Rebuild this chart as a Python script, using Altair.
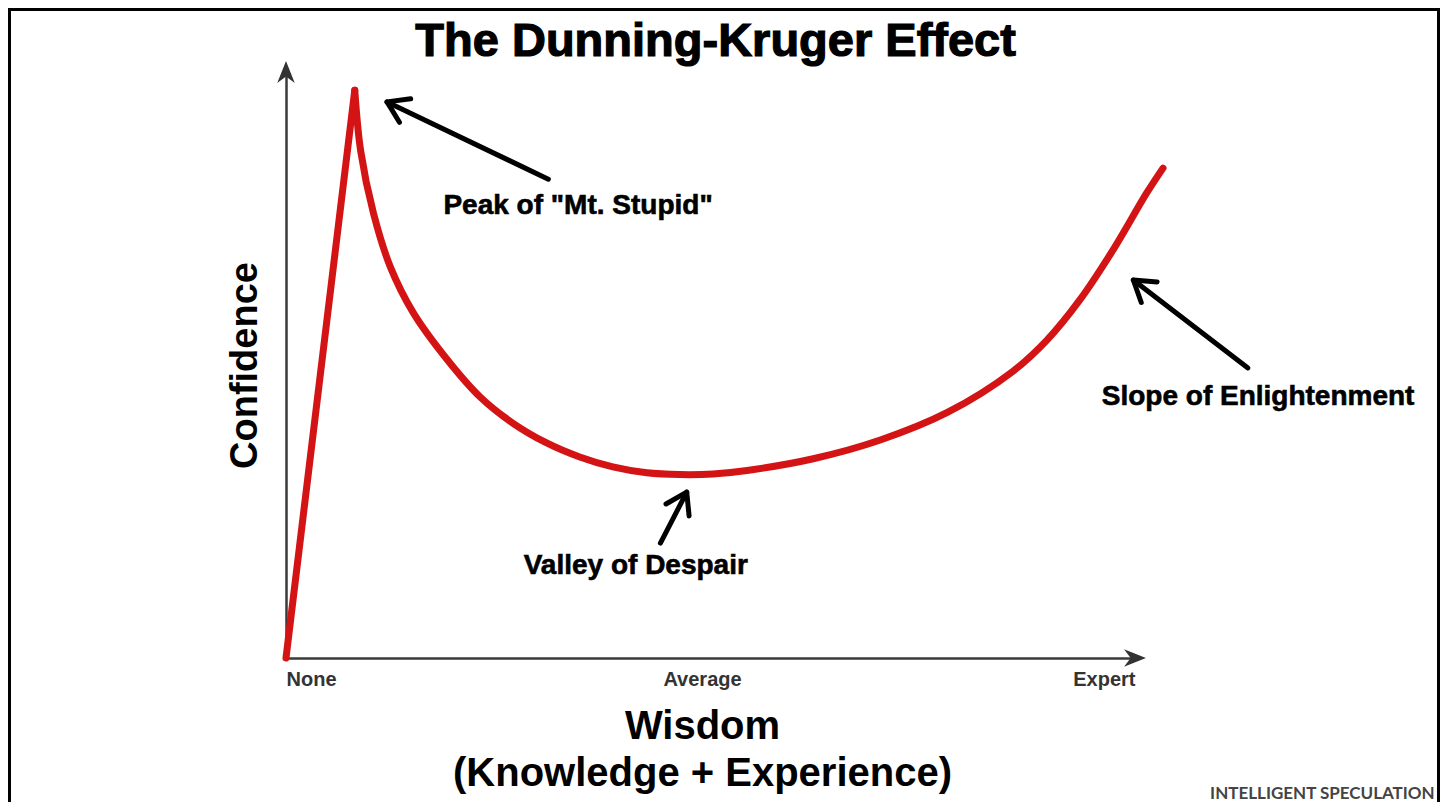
import math
import altair as alt
import pandas as pd

# ---------------- data (Wisdom: 0 = None ... 100 = Expert; Confidence 0..100) ----------------
rise_wisdom = [0.0, 8.1]
rise_conf = [0.0, 96.9]

curve_wisdom = [8.1, 8.8, 10.3, 12.3, 15.0, 19.0, 22.9, 26.7, 30.7, 34.6, 38.5, 42.5,
                46.4, 50.3, 54.3, 62.1, 70.0, 77.9, 85.6, 89.6, 93.5, 97.4, 101.4, 103.3]
curve_conf = [96.9, 86.5, 75.9, 66.7, 58.9, 50.9, 44.5, 40.1, 36.7, 34.3, 32.6, 31.6,
              31.3, 31.4, 32.0, 34.0, 37.2, 41.9, 48.9, 54.2, 61.1, 69.6, 79.4, 83.6]

tick_values = [0, 49, 100]
tick_labels = ["None", "Average", "Expert"]

title_text = ["The Dunning-Kruger Effect"]
title_wisdom = [50.6]
title_conf = [105.1]

ann_text = ['Peak of "Mt. Stupid"', "Valley of Despair", "Slope of Enlightenment"]
ann_wisdom = [34.4, 41.2, 114.5]
ann_conf = [77.1, 15.7, 44.5]

arrow_tail_wisdom = [30.9, 44.1, 113.3]
arrow_tail_conf = [81.7, 19.6, 49.5]
arrow_tip_wisdom = [11.9, 47.2, 99.8]
arrow_tip_conf = [94.9, 28.3, 64.5]

axis_head_wisdom = [100, 0]
axis_head_conf = [0, 100]
axis_head_angle = [0, 270]

credit_text = ["INTELLIGENT SPECULATION"]
credit_wisdom = [135.3]
credit_conf = [-24.1]

# ---------------- layout ----------------
W, H = 849, 586
PX_X, PX_Y = W / 100, H / 100
FONT = "Liberation Sans"
RED = "#d41414"

arrow_angle = [
    math.degrees(math.atan2(-(ty - sy) * PX_Y, (tx - sx) * PX_X)) % 360
    for sx, sy, tx, ty in zip(arrow_tail_wisdom, arrow_tail_conf, arrow_tip_wisdom, arrow_tip_conf)
]

rise_df = pd.DataFrame({"wisdom": rise_wisdom, "confidence": rise_conf})
curve_df = pd.DataFrame({"wisdom": curve_wisdom, "confidence": curve_conf})
title_df = pd.DataFrame({"wisdom": title_wisdom, "confidence": title_conf, "label": title_text})
ann_df = pd.DataFrame({"wisdom": ann_wisdom, "confidence": ann_conf, "label": ann_text})
arrow_df = pd.DataFrame({
    "wisdom": arrow_tail_wisdom, "confidence": arrow_tail_conf,
    "wisdom2": arrow_tip_wisdom, "confidence2": arrow_tip_conf,
})
head_df = pd.DataFrame({"wisdom": arrow_tip_wisdom, "confidence": arrow_tip_conf, "ang": arrow_angle})
axis_head_df = pd.DataFrame({"wisdom": axis_head_wisdom, "confidence": axis_head_conf, "ang": axis_head_angle})
credit_df = pd.DataFrame({"wisdom": credit_wisdom, "confidence": credit_conf, "label": credit_text})
frame_df = pd.DataFrame({"k": [0]})

label_expr = " : ".join(
    f"datum.value == {v} ? '{t}'" for v, t in zip(tick_values[:-1], tick_labels[:-1])
) + f" : '{tick_labels[-1]}'"

xscale = alt.Scale(domain=[0, 100], nice=False, zero=False)
yscale = alt.Scale(domain=[0, 100], nice=False, zero=False)

x_axis = alt.Axis(
    values=tick_values, labelExpr=label_expr, labelFlush=True, ticks=False, tickSize=0,
    grid=False, domainColor="#3a3a3a", domainWidth=2.5,
    labelFont=FONT, labelFontWeight="bold", labelFontSize=20, labelColor="#333333",
    labelPadding=11,
    title=["Wisdom", "(Knowledge + Experience)"], titleFont=FONT, titleFontSize=40,
    titleFontWeight="bold", titleColor="#000000", titlePadding=17, titleLineHeight=47,
    titleX=416,
)
y_axis = alt.Axis(
    labels=False, ticks=False, tickSize=0, grid=False, domainColor="#3a3a3a", domainWidth=2.5,
    title="Confidence", titleFont=FONT, titleFontSize=38, titleFontWeight="bold",
    titleColor="#000000", titlePadding=22,
)

X = alt.X("wisdom:Q", scale=xscale, axis=x_axis)
Y = alt.Y("confidence:Q", scale=yscale, axis=y_axis)

rise = alt.Chart(rise_df).mark_line(color=RED, strokeWidth=7, strokeCap="round").encode(x=X, y=Y)
curve = alt.Chart(curve_df).mark_line(
    color=RED, strokeWidth=7, strokeCap="round", interpolate="catmull-rom"
).encode(x=X, y=Y, order="wisdom:Q")

axis_heads = alt.Chart(axis_head_df).mark_point(
    shape="M1,0L-1,-0.8L-0.4,0L-1,0.8Z", filled=True, color="#333333", size=480, opacity=1
).encode(x=X, y=Y, angle=alt.Angle("ang:Q", scale=None))

arrows = alt.Chart(arrow_df).mark_rule(color="black", strokeWidth=5, strokeCap="round").encode(
    x=X, y=Y, x2="wisdom2:Q", y2="confidence2:Q",
)
heads = alt.Chart(head_df).mark_point(
    shape="M-1,-0.65L0,0L-1,0.65", filled=False, color="black", strokeWidth=5,
    size=1600, opacity=1, strokeCap="round", strokeJoin="round",
).encode(x=X, y=Y, angle=alt.Angle("ang:Q", scale=None))

ann = alt.Chart(ann_df).mark_text(
    font=FONT, fontWeight="bold", fontSize=28, color="black", align="center", baseline="middle",
    stroke="black", strokeWidth=0.6,
).encode(x=X, y=Y, text="label:N")

title = alt.Chart(title_df).mark_text(
    font=FONT, fontWeight="bold", fontSize=47, color="black", align="center", baseline="middle",
    stroke="black", strokeWidth=1.2,
).encode(x=X, y=Y, text="label:N")

credit = alt.Chart(credit_df).mark_text(
    font="Lato", fontWeight="bold", fontSize=17, color="#444444", align="right",
    baseline="alphabetic",
).encode(x=X, y=Y, text="label:N")

frame = alt.Chart(frame_df).mark_rect(filled=False, stroke="black", strokeWidth=4).encode(
    x=alt.value(-277), x2=alt.value(1153), y=alt.value(-63), y2=alt.value(760),
)

chart = alt.layer(
    frame, rise, curve, axis_heads, arrows, heads, ann, title, credit
).properties(
    width=W, height=H,
    padding={"left": 278, "top": 64, "right": 305, "bottom": 144},
    autosize=alt.AutoSizeParams(type="none"),
    background="white",
).configure_view(stroke=None)

chart.save("out.html", embed_options={"renderer": "svg", "actions": False})
